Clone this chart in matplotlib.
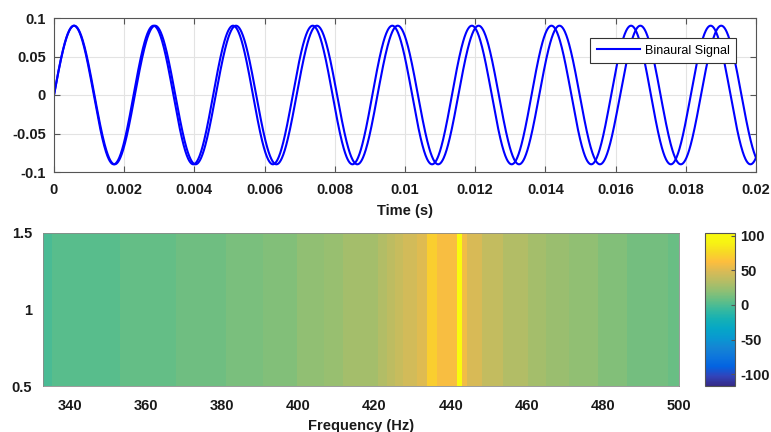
import numpy as np
import matplotlib
matplotlib.use('Agg')
import matplotlib.pyplot as plt
from matplotlib.colors import LinearSegmentedColormap

# --- DATA ---
TONE_FREQS = [441.0, 434.0]      # Hz, left / right ear
AMPLITUDE = 0.09
T_END = 0.02
N_SAMPLES = 2000

# spectrum bands (Hz edges) and levels
BAND_EDGES = [332.9, 335.3, 353.2, 367.9, 381.1, 390.8, 399.7, 406.6, 411.8,
              420.8, 423.4, 425.5, 427.6, 431.1, 433.9, 436.3, 441.6, 442.9,
              444.2, 448.2, 453.7, 460.3, 465.0, 471.1, 478.7, 486.3, 497.1, 500.3]
BAND_LEVELS = [-1, 3, 7, 10, 13.5, 16, 21, 23, 28,
               33, 37, 41, 46, 51, 71, 60, 110, 58,
               48, 40, 33, 28, 24, 21, 16, 12, 9]

TIME_TICKS = [0, 0.002, 0.004, 0.006, 0.008, 0.01, 0.012, 0.014, 0.016, 0.018, 0.02]
TIME_TICKLABELS = ['0', '0.002', '0.004', '0.006', '0.008', '0.01', '0.012',
                   '0.014', '0.016', '0.018', '0.02']
AMP_TICKS = [-0.1, -0.05, 0, 0.05, 0.1]
AMP_TICKLABELS = ['-0.1', '-0.05', '0', '0.05', '0.1']
FREQ_TICKS = [340, 360, 380, 400, 420, 440, 460, 480, 500]
CBAR_TICKS = [-100, -50, 0, 50, 100]

# MATLAB parula, every 4th entry of the 64 colour table
PARULA = [
    (0.2081, 0.1663, 0.5292), (0.1959, 0.2645, 0.7279), (0.0117, 0.3875, 0.8820),
    (0.0498, 0.4586, 0.8641), (0.0793, 0.5200, 0.8312), (0.0343, 0.5966, 0.8199),
    (0.0228, 0.6535, 0.7768), (0.0843, 0.6928, 0.7062), (0.2178, 0.7250, 0.6193),
    (0.3953, 0.7459, 0.5244), (0.5709, 0.7485, 0.4494), (0.7184, 0.7411, 0.3905),
    (0.8507, 0.7299, 0.3360), (0.9938, 0.7455, 0.2403), (0.9697, 0.8481, 0.1475),
    (0.9661, 0.9514, 0.0755), (0.9763, 0.9831, 0.0538),
]
parula = LinearSegmentedColormap.from_list('parula', PARULA)

plt.rcParams['font.family'] = ['Liberation Sans', 'DejaVu Sans']
plt.rcParams['axes.unicode_minus'] = False
TXT = '#1a1a1a'
FS = 10.5

fig = plt.figure(figsize=(7.71, 4.32), dpi=100)

# --- top: the two tones ---
ax1 = fig.add_axes([54 / 771, 1 - 172 / 432, 702 / 771, 154 / 432])
t = np.linspace(0, T_END, N_SAMPLES)
for i, f in enumerate(TONE_FREQS):
    ax1.plot(t, AMPLITUDE * np.sin(2 * np.pi * f * t), color='#0000ff', lw=1.5,
             label='Binaural Signal' if i == 0 else None)
ax1.set_xlim(0, T_END)
ax1.set_ylim(-0.1, 0.1)
ax1.set_xticks(TIME_TICKS, TIME_TICKLABELS)
ax1.set_yticks(AMP_TICKS, AMP_TICKLABELS)
ax1.grid(True, color='#e3e3e3', lw=0.8)
ax1.set_axisbelow(True)
ax1.tick_params(direction='in', top=True, right=True, length=4, width=0.8,
                colors='#555555', labelcolor=TXT, labelsize=FS)
ax1.tick_params(axis='x', pad=8)
ax1.tick_params(axis='y', pad=6)
for lab in ax1.get_xticklabels() + ax1.get_yticklabels():
    lab.set_fontweight('bold')
ax1.set_xlabel('Time (s)', fontsize=FS, fontweight='bold', color=TXT, labelpad=5)
for s in ax1.spines.values():
    s.set_color('#555555')
    s.set_linewidth(0.8)
leg = ax1.legend(loc='upper right', bbox_to_anchor=(0.972, 0.872), fontsize=9,
                 fancybox=False, framealpha=1, edgecolor='#333333',
                 handlelength=3.4, handletextpad=0.4, borderpad=0.55,
                 borderaxespad=0)
leg.get_frame().set_linewidth(0.8)

# --- bottom: spectrum band image ---
ax2 = fig.add_axes([43 / 771, 1 - 386 / 432, 636 / 771, 153 / 432])
levels = np.array(BAND_LEVELS, dtype=float)[np.newaxis, :]
mesh = ax2.pcolormesh(BAND_EDGES, [0.5, 1.5], levels, cmap=parula,
                      vmin=-117, vmax=104, shading='flat')
ax2.set_xlim(BAND_EDGES[0], 500)
ax2.set_ylim(0.5, 1.5)
ax2.set_xticks(FREQ_TICKS)
ax2.set_yticks([0.5, 1, 1.5], ['0.5', '1', '1.5'])
ax2.tick_params(length=0, labelcolor=TXT, labelsize=FS)
ax2.tick_params(axis='x', pad=9)
ax2.tick_params(axis='y', pad=8)
for lab in ax2.get_xticklabels() + ax2.get_yticklabels():
    lab.set_fontweight('bold')
ax2.set_xlabel('Frequency (Hz)', fontsize=FS, fontweight='bold', color=TXT, labelpad=5)
for s in ax2.spines.values():
    s.set_color('#8a8a8a')
    s.set_linewidth(0.6)

cax = fig.add_axes([705 / 771, 1 - 386 / 432, 30 / 771, 153 / 432])
cb = fig.colorbar(mesh, cax=cax)
cb.set_ticks(CBAR_TICKS)
cb.ax.tick_params(direction='in', length=3, width=0.8, colors='#555555',
                  labelcolor=TXT, labelsize=FS, pad=4)
for lab in cb.ax.get_yticklabels():
    lab.set_fontweight('bold')
cb.outline.set_edgecolor('#555555')
cb.outline.set_linewidth(0.8)

fig.savefig('out.png', dpi=100)
